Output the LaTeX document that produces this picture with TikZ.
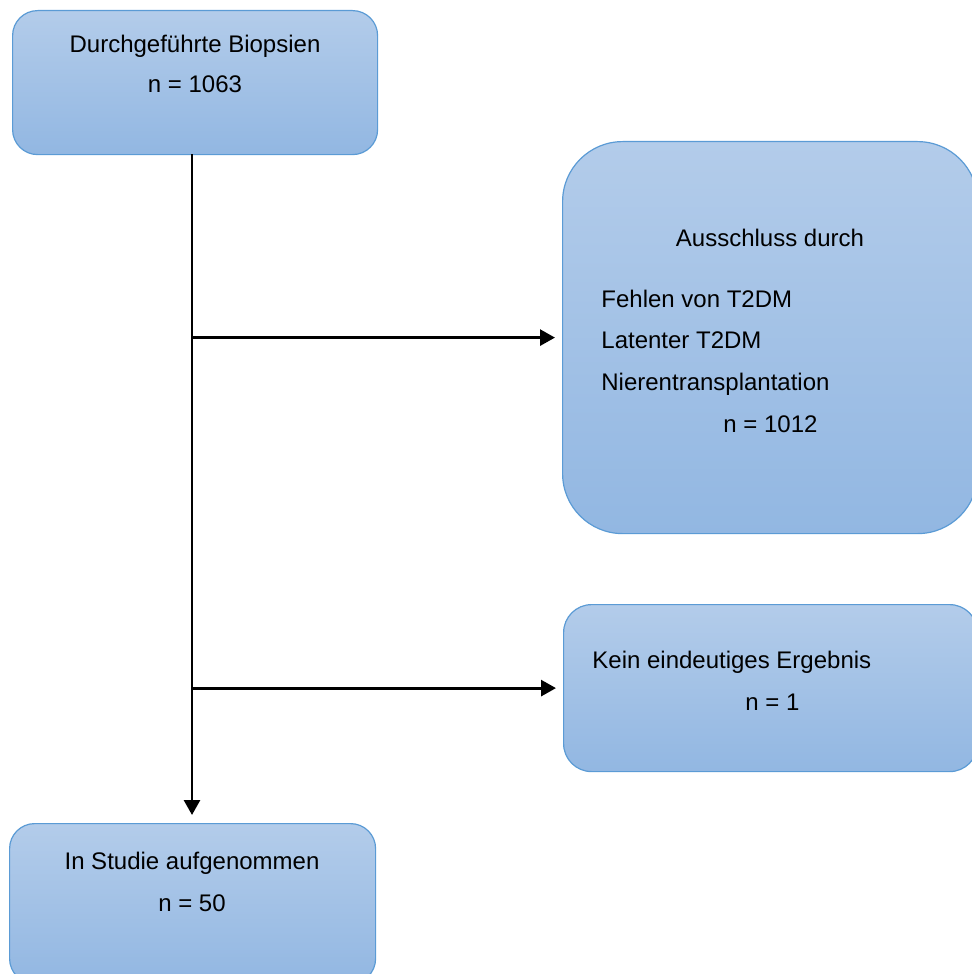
\documentclass[tikz,border=0pt]{standalone}
\usepackage{fontspec}
\setmainfont{Liberation Sans}
\usetikzlibrary{arrows.meta}
\definecolor{boxtop}{RGB}{179,204,234}
\definecolor{boxbottom}{RGB}{146,183,226}
\definecolor{boxline}{RGB}{91,155,213}
\begin{document}
\begin{tikzpicture}
        [%%%%%%%%%%%%%%%%%%%%%%%%%%%%%%
            x=0.5pt, y=-0.5pt,
            box/.style={draw=boxline, line width=0.6pt, top color=boxtop, bottom color=boxbottom, anchor=north west, inner sep=0pt},
            txt/.style={font=\fontsize{12}{14}\selectfont, inner sep=0pt, anchor=base},
            flow/.style={line width=1.4pt, -{Triangle[length=7.5pt,width=8pt]}, shorten >=3.5pt},
        ]%%%%%%%%%%%%%%%%%%%%%%%%%%%%%%
        \useasboundingbox (0,0) rectangle (972,974);
        \clip (0,0) rectangle (972,974);

        \node[box, rounded corners=12.5pt, minimum width=182.5pt, minimum height=72pt] (biopsien) at (12,10) {};
        \node[box, rounded corners=30pt, minimum width=207.5pt, minimum height=196pt] (ausschluss) at (562,141) {};
        \node[box, rounded corners=14pt, minimum width=207pt, minimum height=83.5pt] (unklar) at (563,604) {};
        \node[box, rounded corners=12.5pt, minimum width=183pt, minimum height=80pt] (studie) at (9,823) {};

        \node[txt] (biopsien-titel) at (195,53) {Durchgeführte Biopsien};
        \node[txt] (biopsien-n) at (195,93) {n = 1063};

        \node[txt] (ausschluss-titel) at (770,246) {Ausschluss durch};
        \foreach \name/\y/\text in {fehlen/307/Fehlen von T2DM, latent/348/Latenter T2DM, ntx/390/Nierentransplantation}{
            \node[txt, anchor=base west] (\name) at (601,\y) {\text};
        }
        \node[txt, anchor=base west] (ausschluss-n) at (723,432) {n = 1012};

        \node[txt, anchor=base west] (unklar-titel) at (592,668) {Kein eindeutiges Ergebnis};
        \node[txt, anchor=base west] (unklar-n) at (745,710) {n = 1};

        \node[txt] (studie-titel) at (192,869) {In Studie aufgenommen};
        \node[txt] (studie-n) at (192,911) {n = 50};

        \coordinate (stamm) at (192,154);
        \draw[flow, shorten >=4pt] (stamm) -- (stamm |- studie.north);
        \foreach \ziel in {ausschluss, unklar}{
            \draw[flow] (stamm |- \ziel.west) -- (\ziel.west);
        }
    \end{tikzpicture}
\end{document}
